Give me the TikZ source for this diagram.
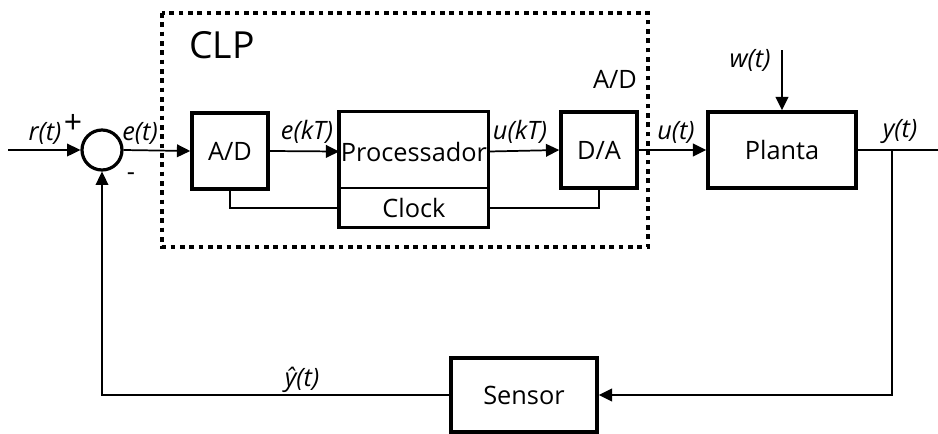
\documentclass[tikz,border=0pt]{standalone}
\usepackage{fontspec}
\setmainfont{Open Sans}
\usetikzlibrary{arrows.meta}

\begin{document}
\begin{tikzpicture}[x=0.75pt, y=-0.75pt,
    block/.style={draw, line width=2.6pt, minimum width=57pt, minimum height=57pt, inner sep=0pt, font=\fontsize{19}{22}\selectfont},
    sig/.style={line width=1.3pt, -{Triangle[length=10pt, width=9.5pt]}},
    wire/.style={line width=1.3pt},
    lbl/.style={font=\fontsize{19}{22}\selectfont\itshape, inner sep=0pt}]
  \useasboundingbox (0,0) rectangle (938,433);

  % CLP frame
  \draw[line width=3pt, dash pattern=on 3.5pt off 3.5pt] (162,13) rectangle (648,247);
  \node[font=\fontsize{28}{32}\selectfont] (clp) at (222,45) {CLP};
  \node[font=\fontsize{19}{22}\selectfont] (adlbl) at (615,79) {A/D};

  % blocks
  \node[draw, circle, line width=2.4pt, minimum size=30pt, inner sep=0pt] (sum) at (102,150) {};
  \node[block] (ad) at (230,151) {A/D};
  \node[block, draw=none, minimum width=109.5pt, minimum height=57.75pt] (proc) at (414,151.5) {Processador};
  \node[block, draw=none, minimum width=109.5pt, minimum height=27pt] (clock) at (414,208) {Clock};
  \draw[line width=2.6pt] (proc.north west) rectangle (clock.south east);
  \draw[wire] (clock.north west) -- (clock.north east);
  \node[block] (da) at (599,150) {D/A};
  \node[block, minimum width=111pt] (planta) at (782,150) {Planta};
  \node[block, minimum width=109.5pt, minimum height=55.5pt] (sensor) at (524,395) {Sensor};

  \coordinate (in) at (8,150);
  \coordinate (wtop) at (782,50);
  \coordinate (out) at (938,150);
  \coordinate (yb) at (892,150);

  % signals
  \draw[sig] (in) -- (sum.west);
  \draw[sig] (sum.east) -- (ad.west);
  \draw[sig] (ad.east) -- (proc.west);
  \draw[sig] (proc.east) -- (da.west);
  \draw[sig] (da.east) -- (planta.west);
  \draw[sig] (wtop) -- (planta.north);
  \draw[wire] (planta.east) -- (out);
  \draw[sig] (yb) |- (sensor.east);
  \draw[sig] (sensor.west) -| (sum.south);
  \draw[wire] (ad.south) |- (clock.west);
  \draw[wire] (clock.east) -| (da.south);

  % labels
  \node[lbl] (r) at (45,133) {r(t)};
  \node[font=\fontsize{24}{26}\selectfont, inner sep=0pt] (plus) at (73,124) {+};
  \node[font=\fontsize{19}{22}\selectfont, inner sep=0pt] (minus) at (131,177) {-};
  \node[lbl] (e) at (140,133) {e(t)};
  \node[lbl] (ekt) at (307,132) {e(kT)};
  \node[lbl] (ukt) at (520,132) {u(kT)};
  \node[lbl] (u) at (676,132) {u(t)};
  \node[lbl] (w) at (750,60) {w(t)};
  \node[lbl] (y) at (900,132) {y(t)};
  \node[lbl] (yhat) at (302,380) {ŷ(t)};
\end{tikzpicture}
\end{document}
